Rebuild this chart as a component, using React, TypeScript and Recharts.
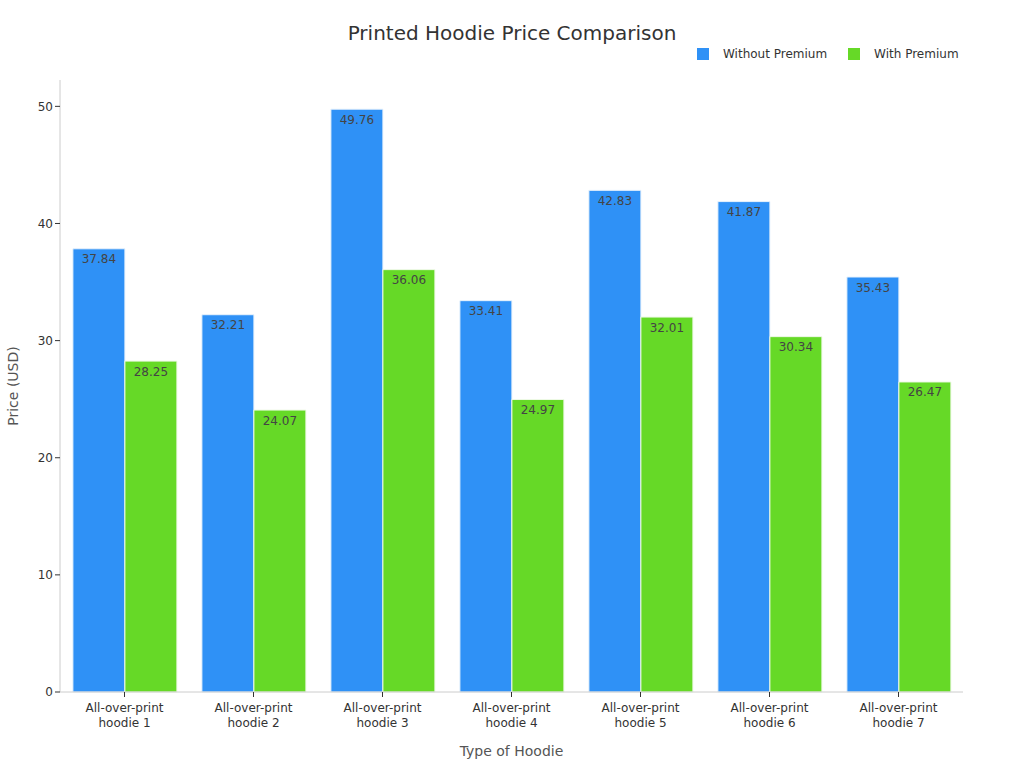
import React from "react";
import { BarChart, Bar, XAxis, YAxis, Legend, LabelList } from "recharts";

const categories = [
  "All-over-print hoodie 1",
  "All-over-print hoodie 2",
  "All-over-print hoodie 3",
  "All-over-print hoodie 4",
  "All-over-print hoodie 5",
  "All-over-print hoodie 6",
  "All-over-print hoodie 7",
];
const withoutPremium = [37.84, 32.21, 49.76, 33.41, 42.83, 41.87, 35.43];
const withPremium = [28.25, 24.07, 36.06, 24.97, 32.01, 30.34, 26.47];
const yTicks = [0, 10, 20, 30, 40, 50];

const data = categories.map((name, i) => ({
  name,
  without: withoutPremium[i],
  with: withPremium[i],
}));

const FONT = "'DejaVu Sans', sans-serif";
const BLUE = "#2F91F6";
const GREEN = "#66D927";

const CategoryTick = (props: any) => {
  const { x, y, payload } = props;
  const value: string = payload.value;
  const idx = value.lastIndexOf(" hoodie");
  const l1 = idx >= 0 ? value.slice(0, idx) : value;
  const l2 = idx >= 0 ? value.slice(idx + 1) : "";
  return (
    <g transform={`translate(${x},${y})`}>
      <text textAnchor="middle" fill="#333" fontSize={12} fontFamily={FONT}>
        <tspan x={0} dy={13}>{l1}</tspan>
        <tspan x={0} dy={15}>{l2}</tspan>
      </text>
    </g>
  );
};

const LegendContent = () => (
  <div style={{ display: "flex", fontFamily: FONT, fontSize: 12, color: "#333" }}>
    <div style={{ display: "flex", alignItems: "center", marginRight: 21 }}>
      <span style={{ width: 12, height: 12, background: BLUE, display: "inline-block", marginRight: 14 }} />
      Without Premium
    </div>
    <div style={{ display: "flex", alignItems: "center" }}>
      <span style={{ width: 12, height: 12, background: GREEN, display: "inline-block", marginRight: 14 }} />
      With Premium
    </div>
  </div>
);

export default function App() {
  return (
    <div style={{ position: "absolute", left: 0, top: 0, width: 1024, height: 768, background: "#fff" }}>
      <div
        style={{
          position: "absolute",
          top: 21,
          left: 0,
          width: 1024,
          textAlign: "center",
          fontFamily: FONT,
          fontSize: 20,
          color: "#333",
        }}
      >
        Printed Hoodie Price Comparison
      </div>
      <BarChart
        width={1024}
        height={768}
        data={data}
        margin={{ top: 66, right: 61, left: 0, bottom: 0 }}
        barCategoryGap="10%"
        barGap={0}
      >
        <XAxis
          dataKey="name"
          height={76}
          tick={<CategoryTick />}
          tickLine={{ stroke: "#333" }}
          tickSize={5}
          axisLine={{ stroke: "#ccc" }}
          interval={0}
          label={{
            value: "Type of Hoodie",
            position: "insideBottom",
            offset: 12,
            fill: "#555",
            fontSize: 14,
            fontFamily: FONT,
          }}
        />
        <YAxis
          width={60}
          domain={[0, 52.25]}
          ticks={yTicks}
          tick={{ fill: "#333", fontSize: 12, fontFamily: FONT }}
          tickLine={{ stroke: "#333" }}
          tickSize={5}
          axisLine={{ stroke: "#ccc" }}
          label={{
            value: "Price (USD)",
            angle: -90,
            position: "insideLeft",
            offset: 13,
            style: { textAnchor: "middle" },
            fill: "#555",
            fontSize: 14,
            fontFamily: FONT,
          }}
        />
        <Legend
          verticalAlign="top"
          align="right"
          content={<LegendContent />}
          wrapperStyle={{ top: 47, left: 697, width: 300 }}
        />
        <Bar dataKey="without" name="Without Premium" fill={BLUE} stroke="#e8f2fc" strokeWidth={1} isAnimationActive={false}>
          <LabelList dataKey="without" position="insideTop" offset={6} fill="#444" fontSize={12} fontFamily={FONT} />
        </Bar>
        <Bar dataKey="with" name="With Premium" fill={GREEN} stroke="#eef9e6" strokeWidth={1} isAnimationActive={false}>
          <LabelList dataKey="with" position="insideTop" offset={6} fill="#444" fontSize={12} fontFamily={FONT} />
        </Bar>
      </BarChart>
    </div>
  );
}
